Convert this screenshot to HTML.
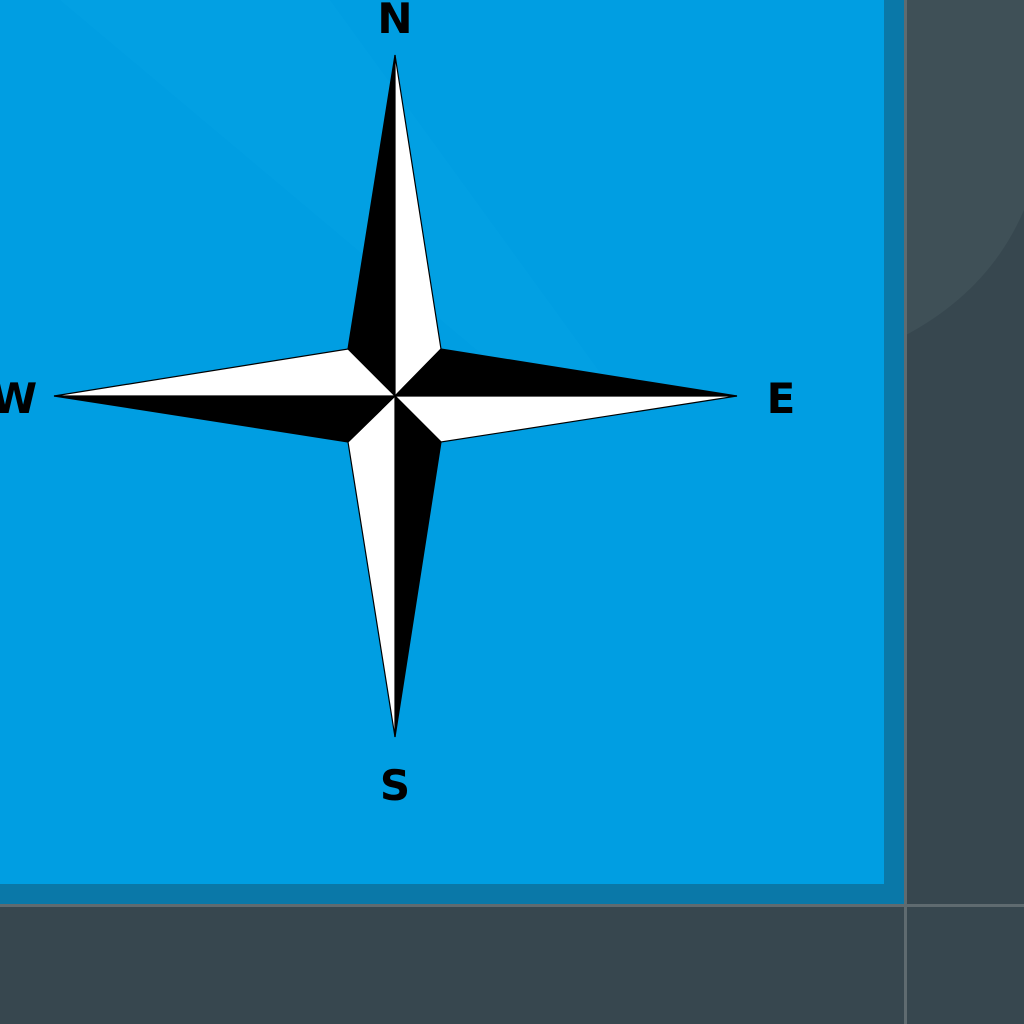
<!DOCTYPE html>
<html><head><meta charset="utf-8"><style>
html,body{margin:0;padding:0;width:1024px;height:1024px;overflow:hidden;background:#37474f}
svg{display:block}
text{font-family:"DejaVu Sans","Liberation Sans",sans-serif;font-weight:bold;font-size:42px;fill:#000}
</style></head><body>
<svg width="1024" height="1024" viewBox="0 0 1024 1024">
  <rect x="0" y="0" width="1024" height="1024" fill="#37474f"/>
  <path d="M906 0 L1024 0 L1024 210 Q990 290 906 335 Z" fill="#3f5057"/>
  <rect x="0" y="0" width="904" height="904" fill="#0a78a8"/>
  <rect x="0" y="0" width="884" height="884" fill="#009ee2"/>
  <path d="M60 0 L330 0 L620 400 L560 420 Z" fill="#04a2e4" opacity="0.6"/>
  <rect x="904" y="0" width="3" height="1024" fill="#5f6b70"/>
  <rect x="0" y="904" width="1024" height="3" fill="#5f6b70"/>
  <g stroke="#000" stroke-width="1.2" stroke-linejoin="miter">
    <polygon points="395,55 348,349 395,396" fill="#000"/>
    <polygon points="395,55 441,349 395,396" fill="#fff"/>
    <polygon points="737,396 441,349 395,396" fill="#000"/>
    <polygon points="737,396 441,442 395,396" fill="#fff"/>
    <polygon points="395,737 441,442 395,396" fill="#000"/>
    <polygon points="395,737 348,442 395,396" fill="#fff"/>
    <polygon points="54,396 348,442 395,396" fill="#000"/>
    <polygon points="54,396 348,349 395,396" fill="#fff"/>
  </g>
  <text x="395" y="33" text-anchor="middle">N</text>
  <text x="395" y="800" text-anchor="middle">S</text>
  <text x="781" y="413" text-anchor="middle">E</text>
  <text x="14" y="413" text-anchor="middle">W</text>
</svg>
</body></html>
